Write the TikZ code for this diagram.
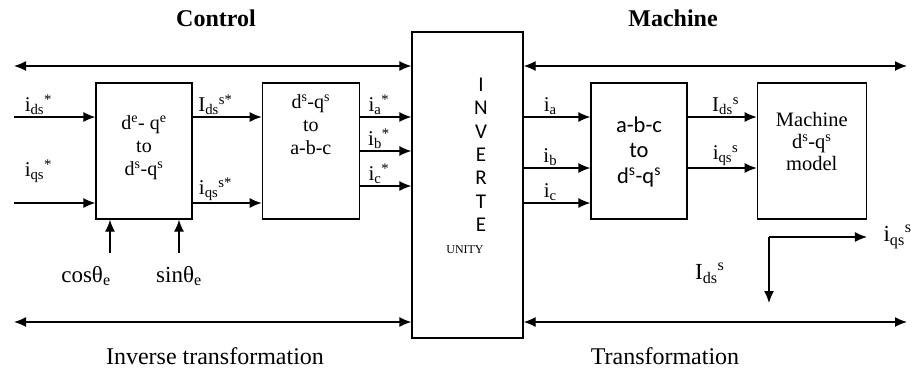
\documentclass[tikz,border=0pt]{standalone}
\usepackage{fontspec}
\setmainfont{Liberation Serif}
\setsansfont{Carlito}
\usetikzlibrary{
	positioning,
	arrows.meta
}

\begin{document}
\begin{tikzpicture}[
			x=1pt, y=-1pt,
			node distance=69pt,
			>={Latex[length=12pt,width=10pt]},
			block/.style={
				draw,
				line width=1.3pt,
				minimum width=96pt,
				minimum height=136pt,
				inner sep=0pt
			},
			blocktext/.style={
				align=center,
				anchor=north,
				inner sep=0pt,
				font=\fontsize{20}{22}\selectfont
			},
			lab/.style={font=\fontsize{21}{23}\selectfont, inner sep=1.5pt},
			biglab/.style={font=\fontsize{23}{25}\selectfont, inner sep=2pt},
			head/.style={font=\fontsize{24}{26}\selectfont\bfseries},
			foot/.style={font=\fontsize{24}{26}\selectfont},
			arrow/.style={->, line width=1.3pt},
			darrow/.style={<->, line width=1.3pt}
			]
			
			\useasboundingbox (0,0) rectangle (919,373);
			
			% blocks
			\node[block] (cdq) at (144,151) {};
			
			\node[block, minimum width=97pt, right=of cdq] (cabc) {};
			
			\node[block, minimum width=111pt, minimum height=306pt] (inv)
			at (467.5,185) {};
			
			\node[block] (mabc) at (639,151) {};
			
			\node[block, minimum width=109pt, right=of mabc] (mod) {};
			
			% block texts
			\node[blocktext, font=\fontsize{20}{23}\selectfont] (cdqt)
			at ([yshift=-33pt]cdq.north)
			{d\textsuperscript{e}- q\textsuperscript{e}\\to\\d\textsuperscript{s}-q\textsuperscript{s}};
			
			\node[blocktext, font=\fontsize{20}{23}\selectfont] (cabct)
			at ([yshift=-12pt]cabc.north)
			{d\textsuperscript{s}-q\textsuperscript{s}\\to\\a-b-c};
			
			\node[blocktext, font=\sffamily\fontsize{22.5}{25.5}\selectfont] (mabct)
			at ([yshift=-34pt]mabc.north)
			{a-b-c\\to\\d\textsuperscript{s}-q\textsuperscript{s}};
			
			\node[blocktext, font=\fontsize{20.5}{22}\selectfont] (modt)
			at ([yshift=-30pt]mod.north)
			{Machine\\d\textsuperscript{s}-q\textsuperscript{s}\\model};
			
			\node[blocktext, font=\sffamily\fontsize{21}{23.3}\selectfont] (invt)
			at (481,78) {I\\N\\V\\E\\R\\T\\E};
			
			\node[font=\fontsize{12}{14}\selectfont] (unity) at (465,250) {UNITY};
			
			% titles
			\node[head] (ctrl) at (216,18) {Control};
			\node[head] (mach) at (673,18) {Machine};
			\node[foot] (itr) at (215,356) {Inverse transformation};
			\node[foot] (tr) at (665,356) {Transformation};
			
			% long arrows
			\coordinate (tl) at (14,66);
			\coordinate (tr) at (907,66);
			\coordinate (bl) at (14,322);
			\coordinate (br) at (907,322);
			
			\draw[darrow] (tl)--(tl -| inv.west);
			\draw[darrow] (inv.east |- tr)--(tr);
			\draw[darrow] (bl)--(bl -| inv.west);
			\draw[darrow] (inv.east |- br)--(br);
			
			% control side
			\coordinate (ids) at (14,117);
			\coordinate (iqs) at (14,203);
			
			\draw[arrow] (ids)--node[lab, above, pos=0.3]
			{i\textsubscript{ds}\textsuperscript{*}} (ids -| cdq.west);
			\draw[arrow] (iqs)--node[lab, above=18pt, pos=0.3]
			{i\textsubscript{qs}\textsuperscript{*}} (iqs -| cdq.west);
			
			\draw[arrow] (cdq.east |- ids)--node[lab, above, pos=0.33]
			{I\textsubscript{ds}\textsuperscript{s*}} (cabc.west |- ids);
			\draw[arrow] (cdq.east |- iqs)--node[lab, above, pos=0.33]
			{i\textsubscript{qs}\textsuperscript{s*}} (cabc.west |- iqs);
			
			\coordinate (ias) at ([yshift=34pt]cabc.east);
			\coordinate (ibs) at (cabc.east);
			\coordinate (ics) at ([yshift=-35pt]cabc.east);
			
			\draw[arrow] (ias)--node[lab, above, pos=0.37]
			{i\textsubscript{a}\textsuperscript{*}} (ias -| inv.west);
			\draw[arrow] (ibs)--node[lab, above, pos=0.37]
			{i\textsubscript{b}\textsuperscript{*}} (ibs -| inv.west);
			\draw[arrow] (ics)--node[lab, above, pos=0.37]
			{i\textsubscript{c}\textsuperscript{*}} (ics -| inv.west);
			
			\coordinate (cs) at (110,253);
			\coordinate (sn) at (179,253);
			\draw[arrow] (cs)--(cs |- cdq.south);
			\draw[arrow] (sn)--(sn |- cdq.south);
			\node[biglab] (cos) at (86,276) {cosθ\textsubscript{e}};
			\node[biglab] (sin) at (179,276) {sinθ\textsubscript{e}};
			
			% machine side
			\coordinate (ia) at ([yshift=34pt]mabc.west);
			\coordinate (ib) at ([yshift=-17pt]mabc.west);
			\coordinate (ic) at ([yshift=-52pt]mabc.west);
			
			\draw[arrow] (inv.east |- ia)--node[lab, above, pos=0.4]
			{i\textsubscript{a}} (ia);
			\draw[arrow] (inv.east |- ib)--node[lab, above, pos=0.4]
			{i\textsubscript{b}} (ib);
			\draw[arrow] (inv.east |- ic)--node[lab, above, pos=0.4]
			{i\textsubscript{c}} (ic);
			
			\draw[arrow] (mabc.east |- ia)--node[lab, above, pos=0.55]
			{I\textsubscript{ds}\textsuperscript{s}} (mod.west |- ia);
			\draw[arrow] (mabc.east |- ib)--node[lab, above, pos=0.55]
			{i\textsubscript{qs}\textsuperscript{s}} (mod.west |- ib);
			
			\coordinate (lc) at (769,237);
			\coordinate (ld) at (769,303);
			\draw[arrow] (lc)--(lc -| mod.east)
			node[biglab, right=14pt] (qsout) {i\textsubscript{qs}\textsuperscript{s}};
			\draw[arrow] (lc)--node[biglab, left=42pt, pos=0.55] (dsout)
			{I\textsubscript{ds}\textsuperscript{s}} (ld);
			
		\end{tikzpicture}
\end{document}
